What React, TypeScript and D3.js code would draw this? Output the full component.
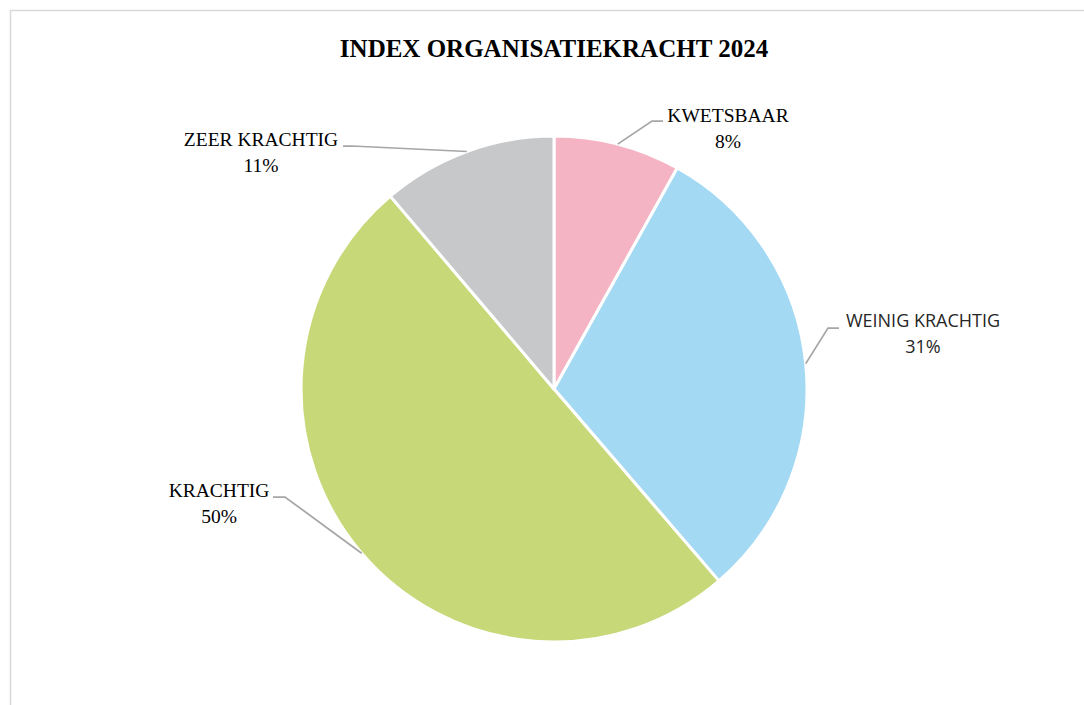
import { useMemo } from "react";
import * as d3 from "d3";

const WIDTH = 1084;
const HEIGHT = 705;

// chart data, clockwise from 12 o'clock
const CATEGORIES = ["KWETSBAAR", "WEINIG KRACHTIG", "KRACHTIG", "ZEER KRACHTIG"];
const VALUES = [8.1, 30.6, 50.1, 11.2];
const COLORS = ["#F4B4C3", "#A3D9F3", "#C6D877", "#C7C8CA"];

const TITLE = "INDEX ORGANISATIEKRACHT 2024";

// label layout: text centre / first baseline, leader elbow and end of the short horizontal piece
const LABEL_LAYOUT = [
  { tx: 728, ty: 122, ex: 652, ey: 121, hx: 663, sans: false },
  { tx: 923, ty: 327, ex: 828, ey: 328, hx: 839, sans: true },
  { tx: 219, ty: 497, ex: 285, ey: 497, hx: 273, sans: false },
  { tx: 261, ty: 146, ex: 352, ey: 146, hx: 343, sans: false },
];

const CENTER = { x: 554, y: 389 };
const RADIUS = 253;

const SERIF = "'Liberation Serif', 'DejaVu Serif', serif";
const SANS = "'Open Sans', 'Noto Sans', sans-serif";

export const PieChart = () => {
  const arcs = useMemo(() => {
    const pie = d3
      .pie<number>()
      .sort(null)
      .value((d) => d);
    return pie(VALUES);
  }, []);

  const arcGen = d3.arc<d3.PieArcDatum<number>>().innerRadius(0).outerRadius(RADIUS);
  const edgeGen = d3.arc<d3.PieArcDatum<number>>().innerRadius(RADIUS).outerRadius(RADIUS);

  const total = d3.sum(VALUES);

  return (
    <svg
      width={WIDTH}
      height={HEIGHT}
      style={{ position: "absolute", left: 0, top: 0, background: "#fff" }}
    >
      {/* chart frame, only left/top visible in the crop */}
      <rect x={10.5} y={10.5} width={1200} height={900} fill="#fff" stroke="#D9D9D9" strokeWidth={1.5} />

      <text
        x={CENTER.x}
        y={57}
        textAnchor="middle"
        fontFamily={SERIF}
        fontWeight="bold"
        fontSize={25}
        fill="#000"
      >
        {TITLE}
      </text>

      <g transform={`translate(${CENTER.x},${CENTER.y})`}>
        {arcs.map((a, i) => (
          <path
            key={CATEGORIES[i]}
            d={arcGen(a) ?? ""}
            fill={COLORS[i]}
            stroke="#fff"
            strokeWidth={3}
            strokeLinejoin="round"
          />
        ))}
      </g>

      {arcs.map((a, i) => {
        const [cx, cy] = edgeGen.centroid(a);
        const l = LABEL_LAYOUT[i];
        const sx = CENTER.x + cx;
        const sy = CENTER.y + cy;
        const pct = Math.round((VALUES[i] / total) * 100) + "%";
        return (
          <g key={"lab" + i}>
            <path
              d={`M${sx},${sy}L${l.ex},${l.ey}L${l.hx},${l.ey}`}
              fill="none"
              stroke="#A6A6A6"
              strokeWidth={1.75}
            />
            <text
              x={l.tx}
              y={l.ty}
              textAnchor="middle"
              fontFamily={l.sans ? SANS : SERIF}
              fontSize={l.sans ? 18 : 19.5}
              fill={l.sans ? "#262626" : "#000"}
            >
              <tspan x={l.tx}>{CATEGORIES[i]}</tspan>
              <tspan x={l.tx} dy={26}>
                {pct}
              </tspan>
            </text>
          </g>
        );
      })}
    </svg>
  );
};

export default function App() {
  return <PieChart />;
}
